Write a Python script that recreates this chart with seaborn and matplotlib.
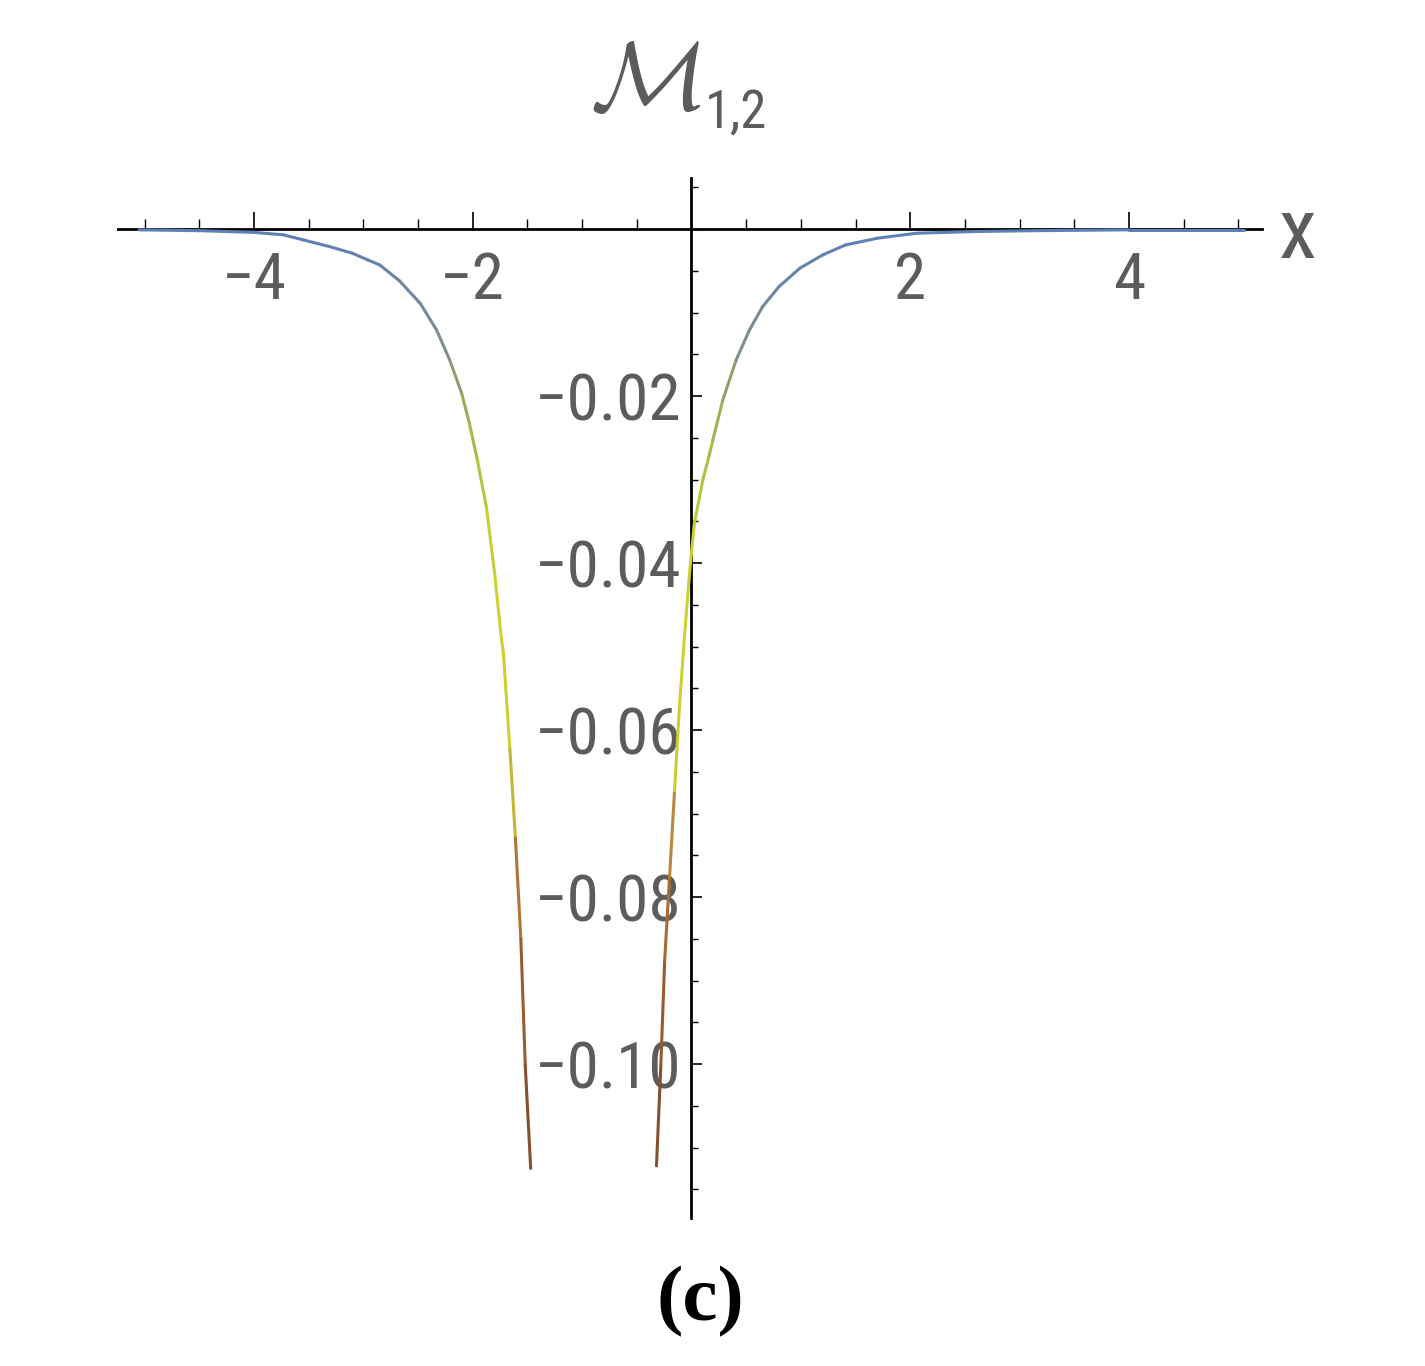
import os
import numpy as np
import pandas as pd
import matplotlib
matplotlib.use("Agg")
import matplotlib.pyplot as plt
import seaborn as sns
from matplotlib.colors import LinearSegmentedColormap, Normalize
from matplotlib.ticker import MultipleLocator
from matplotlib import font_manager
from matplotlib.font_manager import FontProperties

# ---- data ----
left_x = [-5.05, -4.5, -4.0, -3.73, -3.55, -3.31, -3.1, -2.96, -2.85, -2.67,
          -2.48, -2.33, -2.21, -2.10, -2.03, -1.96, -1.875, -1.80, -1.74,
          -1.72, -1.66, -1.61, -1.56, -1.52, -1.47]
left_y = [-0.0001, -0.0002, -0.0004, -0.0007, -0.0013, -0.0021, -0.0029, -0.0037,
          -0.0043, -0.0062, -0.0089, -0.0121, -0.0157, -0.0197, -0.0233, -0.0275,
          -0.0333, -0.0412, -0.0488, -0.0507, -0.0623, -0.0729, -0.0850, -0.1001,
          -0.1125]
right_x = [-0.32, -0.28, -0.245, -0.20, -0.155, -0.11, -0.064, -0.018, 0.027,
           0.103, 0.16, 0.195, 0.286, 0.408, 0.53, 0.65, 0.80, 0.99, 1.20, 1.41,
           1.70, 2.06, 2.6, 3.14, 4.0, 5.05]
right_y = [-0.1122, -0.1001, -0.0876, -0.0775, -0.0673, -0.0572, -0.0488, -0.0412,
           -0.0352, -0.0301, -0.0272, -0.0253, -0.0205, -0.0157, -0.0121, -0.0093,
           -0.0069, -0.0047, -0.0031, -0.0019, -0.0011, -0.0005, -0.0003, -0.0002,
           -0.0001, -0.0001]

x_tick_values = [-4, -2, 2, 4]
x_tick_labels = ["\u22124", "\u22122", "2", "4"]
y_tick_values = [-0.10, -0.08, -0.06, -0.04, -0.02]
y_tick_labels = ["\u22120.10", "\u22120.08", "\u22120.06", "\u22120.04", "\u22120.02"]
title_main = r"$\mathcal{M}$"
title_sub = "1,2"
x_label = "x"
caption = "(c)"

# ---- style ----
sns.set_theme(style="white")
available = {f.name for f in font_manager.fontManager.ttflist}
serif = "Liberation Serif" if "Liberation Serif" in available else "DejaVu Serif"
plt.rcParams["font.family"] = ["DejaVu Sans"]


def find_narrow():
    bad = ["bold", "italic", "oblique", "light", "thin", "medium", "black",
           "semibold", "heavy", "extrab", "mono"]
    cands = []
    for f in font_manager.fontManager.ttflist:
        fn = os.path.basename(f.fname).lower()
        narrowish = ("narrow" in fn or "condensed" in fn or
                     f.stretch in ("condensed", "semi-condensed", "extra-condensed"))
        if not narrowish:
            continue
        if any(b in fn for b in bad):
            continue
        if f.style != "normal":
            continue
        cands.append(f)
    prefs = ["liberationsansnarrow", "robotocondensed", "dejavusanscondensed",
             "notosans", "opensans", "lato", "inter"]

    def key(f):
        fn = os.path.basename(f.fname).lower().replace("-", "").replace("_", "")
        for i, p in enumerate(prefs):
            if fn.startswith(p):
                return i
        return len(prefs)
    cands.sort(key=key)
    return cands[0].fname if cands else None


narrow_path = find_narrow()


def tick_font(size):
    if narrow_path:
        return FontProperties(fname=narrow_path, size=size)
    return FontProperties(family="DejaVu Sans", size=size * 0.8)


W, H = 1425, 1366
fig = plt.figure(figsize=(W / 100, H / 100), dpi=100)
fig.patch.set_facecolor("white")

ax = fig.add_axes([118 / W, 1 - 1218 / H, (1262 - 118) / W, (1218 - 178) / H])
ax.set_facecolor("white")

# colour gradient by value
cmap = LinearSegmentedColormap.from_list(
    "m12",
    [(0.0, "#7a4a2e"), (0.25, "#a8642f"), (0.36, "#b88a3c"), (0.42, "#cccc2e"),
     (0.65, "#cdd434"), (0.78, "#aab64c"), (0.88, "#7f8f86"), (0.95, "#6a84a8"),
     (1.0, "#5d80b6")])
norm = Normalize(vmin=-0.1125, vmax=0.0)

rows = []
palette = {}
k = 0
for xs, ys in [(left_x, left_y), (right_x, right_y)]:
    for i in range(len(xs) - 1):
        sid = f"s{k}"
        rows.append((sid, xs[i], ys[i]))
        rows.append((sid, xs[i + 1], ys[i + 1]))
        palette[sid] = cmap(norm(0.5 * (ys[i] + ys[i + 1])))
        k += 1
df = pd.DataFrame(rows, columns=["seg", "x", "y"])

sns.lineplot(data=df, x="x", y="y", hue="seg", palette=palette, estimator=None,
             sort=False, legend=False, linewidth=2.2, solid_capstyle="round", ax=ax)

ax.set_xlim(-5.243, 5.216)
ax.set_ylim(-0.11844, 0.00611)
ax.set_xlabel("")
ax.set_ylabel("")

for s in ["top", "right"]:
    ax.spines[s].set_visible(False)
ax.spines["left"].set_position(("data", 0))
ax.spines["bottom"].set_position(("data", 0))
for s in ["left", "bottom"]:
    ax.spines[s].set_color("black")
    ax.spines[s].set_linewidth(2.0)
    ax.spines[s].set_zorder(1)

tick_color = "#5c5c5c"
ax.xaxis.set_minor_locator(MultipleLocator(0.5))
ax.yaxis.set_minor_locator(MultipleLocator(0.005))
ax.set_xticks(x_tick_values)
ax.set_xticklabels(x_tick_labels, fontproperties=tick_font(47), color=tick_color)
ax.set_yticks(y_tick_values)
ax.set_yticklabels(y_tick_labels, fontproperties=tick_font(47), color=tick_color)

ax.tick_params(axis="x", which="major", direction="in", length=12, width=1.2,
               color="black", pad=15, bottom=True)
ax.tick_params(axis="x", which="minor", direction="in", length=7, width=1.0,
               color="black", bottom=True)
ax.tick_params(axis="y", which="major", direction="in", length=8, width=1.2,
               color="black", pad=7, left=True)
ax.tick_params(axis="y", which="minor", direction="in", length=5, width=1.0,
               color="black", left=True)
ax.grid(False)

# axis label and title
fig.text(1298 / W, 1 - 234 / H, x_label, ha="center", va="center",
         fontproperties=tick_font(62), color=tick_color)
fig.text(701 / W, 1 - 84 / H, title_main, ha="right", va="center",
         fontsize=70, color=tick_color, math_fontfamily="cm")
fig.text(705 / W, 1 - 128 / H, title_sub, ha="left", va="baseline",
         fontproperties=tick_font(38), color=tick_color)

# panel caption
fig.text(700 / W, 1 - 1302 / H, caption, ha="center", va="center",
         fontsize=57, fontweight="bold", color="black", family=[serif, "DejaVu Serif"])

fig.savefig("out.png", dpi=100, facecolor="white")
